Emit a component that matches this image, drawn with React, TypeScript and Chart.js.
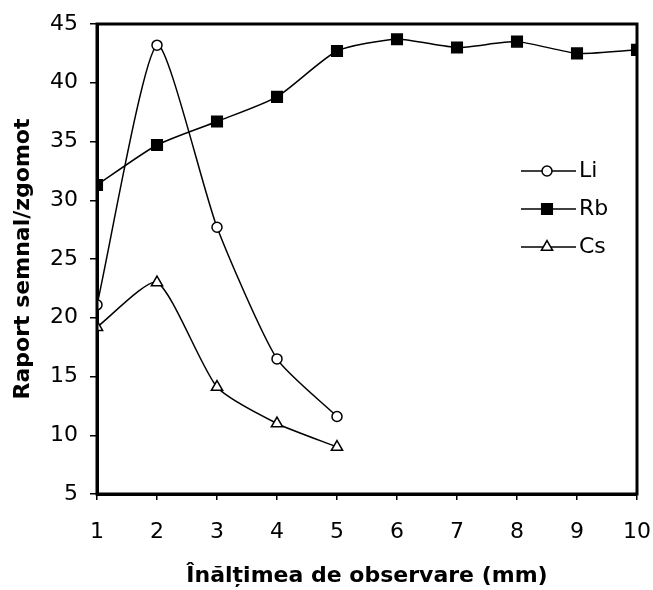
import React, { useEffect, useRef } from "react";
import { Chart, registerables } from "chart.js";

Chart.register(...registerables);

const xValues = [1, 2, 3, 4, 5, 6, 7, 8, 9, 10];
const liValues = [21.1, 43.2, 27.7, 16.5, 11.6];
const rbValues = [31.3, 34.7, 36.7, 38.8, 42.7, 43.7, 43.0, 43.5, 42.5, 42.8];
const csValues = [19.2, 23.0, 14.1, 11.0, 9.0];
const seriesNames = ["Li", "Rb", "Cs"];
const xTitle = "Înălțimea de observare (mm)";
const yTitle = "Raport semnal/zgomot";

const FONT = "'DejaVu Sans', 'Liberation Sans', Arial, sans-serif";

const toPts = (vals: number[]) => vals.map((v, i) => ({ x: xValues[i], y: v }));

function drawMarker(ctx: CanvasRenderingContext2D, style: string, r: number, x: number, y: number, fill: string) {
  ctx.beginPath();
  if (style === "circle") {
    ctx.arc(x, y, r, 0, Math.PI * 2);
  } else if (style === "rect") {
    const s = Math.SQRT1_2 * r;
    ctx.rect(x - s, y - s, 2 * s, 2 * s);
  } else if (style === "triangle") {
    let rad = 0;
    ctx.moveTo(x + Math.sin(rad) * r, y - Math.cos(rad) * r);
    rad += (2 * Math.PI) / 3;
    ctx.lineTo(x + Math.sin(rad) * r, y - Math.cos(rad) * r);
    rad += (2 * Math.PI) / 3;
    ctx.lineTo(x + Math.sin(rad) * r, y - Math.cos(rad) * r);
    ctx.closePath();
  }
  ctx.fillStyle = fill;
  ctx.fill();
  ctx.strokeStyle = "#000";
  ctx.lineWidth = 1.5;
  ctx.stroke();
}

const frameAndLegend = {
  id: "frameAndLegend",
  afterDatasetsDraw(chart: any) {
    const { ctx, chartArea } = chart;
    ctx.save();
    ctx.strokeStyle = "#000";
    ctx.lineWidth = 3;
    ctx.strokeRect(chartArea.left, chartArea.top, chartArea.right - chartArea.left, chartArea.bottom - chartArea.top);
    ctx.restore();
  },
  afterDraw(chart: any) {
    const { ctx } = chart;
    const rows = [171, 209, 247];
    chart.data.datasets.forEach((ds: any, i: number) => {
      const y = rows[i];
      ctx.save();
      ctx.strokeStyle = "#000";
      ctx.lineWidth = 1.5;
      ctx.beginPath();
      ctx.moveTo(521, y);
      ctx.lineTo(576, y);
      ctx.stroke();
      drawMarker(ctx, ds.pointStyle, ds.pointRadius, 547, y, ds.pointBackgroundColor);
      ctx.fillStyle = "#000";
      ctx.font = `22px ${FONT}`;
      ctx.textBaseline = "middle";
      ctx.textAlign = "left";
      ctx.fillText(ds.label, 579, y);
      ctx.restore();
    });
  },
};

export default function App() {
  const ref = useRef<HTMLCanvasElement | null>(null);

  useEffect(() => {
    document.body.style.margin = "0";
    const canvas = ref.current;
    if (!canvas) return;
    const common = {
      borderColor: "#000",
      borderWidth: 1.5,
      pointBorderColor: "#000",
      pointBorderWidth: 1.5,
      tension: 0.2,
      fill: false,
    };
    const chart = new Chart(canvas, {
      type: "line",
      data: {
        datasets: [
          {
            ...common,
            label: seriesNames[0],
            data: toPts(liValues),
            pointStyle: "circle",
            pointRadius: 5,
            pointBackgroundColor: "#fff",
          },
          {
            ...common,
            label: seriesNames[1],
            data: toPts(rbValues),
            pointStyle: "rect",
            pointRadius: 7.5,
            pointBackgroundColor: "#000",
          },
          {
            ...common,
            label: seriesNames[2],
            data: toPts(csValues),
            pointStyle: "triangle",
            pointRadius: 6.5,
            pointBackgroundColor: "#fff",
          },
        ],
      },
      options: {
        animation: false,
        responsive: false,
        maintainAspectRatio: false,
        layout: { padding: { top: 24, right: 16, left: 0, bottom: 0 } },
        plugins: {
          legend: { display: false },
          tooltip: { enabled: false },
        },
        scales: {
          x: {
            type: "linear",
            min: 1,
            max: 10,
            afterFit: (s: any) => {
              s.height = 96;
              s.paddingLeft = 0;
              s.paddingRight = 0;
            },
            ticks: {
              stepSize: 1,
              color: "#000",
              font: { family: FONT, size: 22 },
              padding: 19,
            },
            grid: {
              drawOnChartArea: false,
              drawTicks: true,
              tickLength: 6,
              color: "#000",
              lineWidth: 1.5,
            },
            border: { display: true, color: "#000", width: 3 },
            title: {
              display: true,
              text: xTitle,
              color: "#000",
              font: { family: FONT, size: 22, weight: "bold" },
              padding: { top: 0, bottom: 1 },
            },
          },
          y: {
            type: "linear",
            min: 5,
            max: 45,
            afterFit: (s: any) => {
              s.width = 97;
              s.paddingTop = 0;
              s.paddingBottom = 0;
            },
            ticks: {
              stepSize: 5,
              color: "#000",
              font: { family: FONT, size: 22 },
              padding: 12,
            },
            grid: {
              drawOnChartArea: false,
              drawTicks: true,
              tickLength: 7,
              color: "#000",
              lineWidth: 1.5,
            },
            border: { display: true, color: "#000", width: 3 },
            title: {
              display: true,
              text: yTitle,
              color: "#000",
              font: { family: FONT, size: 22, weight: "bold" },
              padding: { top: 10, bottom: 0 },
            },
          },
        },
      },
      plugins: [frameAndLegend],
    } as any);
    return () => chart.destroy();
  }, []);

  return (
    <div style={{ position: "absolute", left: 0, top: 0, width: 653, height: 590, background: "#fff" }}>
      <canvas ref={ref} width={653} height={590} style={{ width: 653, height: 590, display: "block" }} />
    </div>
  );
}
